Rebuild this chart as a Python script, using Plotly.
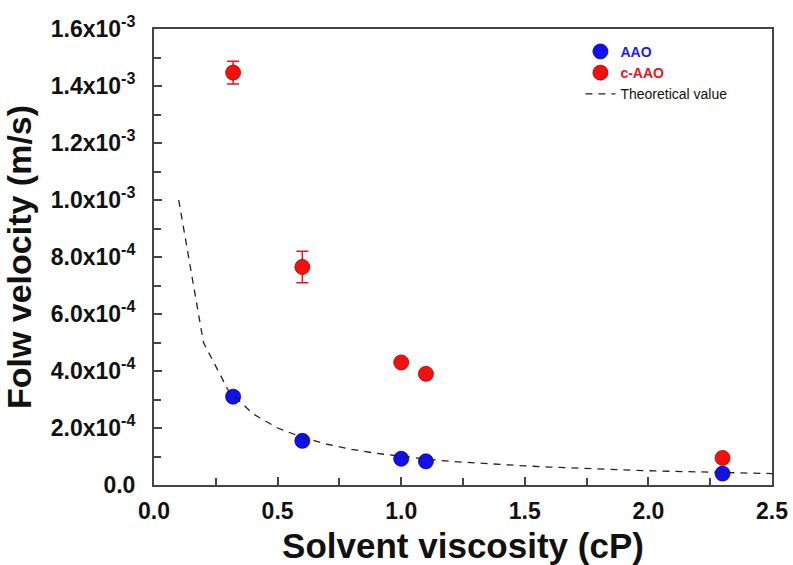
import plotly.graph_objects as go

# Data
viscosity = [0.32, 0.6, 1.0, 1.1, 2.3]
aao_velocity = [3.1e-4, 1.55e-4, 9.2e-5, 8.3e-5, 4.0e-5]
caao_velocity = [1.447e-3, 7.65e-4, 4.3e-4, 3.9e-4, 9.5e-5]
caao_error = [4.0e-5, 5.5e-5, 0.0, 0.0, 0.0]

theory_x = [0.1, 0.2, 0.3, 0.4, 0.5, 0.6, 0.7, 0.8, 0.9, 1.0, 1.1, 1.2, 1.3,
            1.4, 1.5, 1.6, 1.7, 1.8, 1.9, 2.0, 2.1, 2.2, 2.3, 2.4, 2.5]
theory_y = [1.0e-3, 5.0e-4, 3.33e-4, 2.5e-4, 2.0e-4, 1.67e-4, 1.43e-4, 1.25e-4,
            1.11e-4, 1.0e-4, 9.1e-5, 8.3e-5, 7.7e-5, 7.1e-5, 6.7e-5, 6.3e-5,
            5.9e-5, 5.6e-5, 5.3e-5, 5.0e-5, 4.8e-5, 4.5e-5, 4.3e-5, 4.2e-5, 4.0e-5]

x_tickvals = [0.0, 0.5, 1.0, 1.5, 2.0, 2.5]
x_ticktext = ["0.0", "0.5", "1.0", "1.5", "2.0", "2.5"]
y_tickvals = [0.0, 2e-4, 4e-4, 6e-4, 8e-4, 1.0e-3, 1.2e-3, 1.4e-3, 1.6e-3]
y_ticktext = ["0.0", "2.0x10<sup>-4</sup>", "4.0x10<sup>-4</sup>", "6.0x10<sup>-4</sup>",
              "8.0x10<sup>-4</sup>", "1.0x10<sup>-3</sup>", "1.2x10<sup>-3</sup>",
              "1.4x10<sup>-3</sup>", "1.6x10<sup>-3</sup>"]

fig = go.Figure()

fig.add_trace(go.Scatter(
    x=viscosity, y=aao_velocity, mode="markers",
    name="<b><span style='color:#1a1aff'>AAO</span></b>",
    marker=dict(size=15, color="#1010f0", line=dict(color="#0000a0", width=0.8)),
))
fig.add_trace(go.Scatter(
    x=viscosity, y=caao_velocity, mode="markers",
    name="<b><span style='color:#e8141e'>c-AAO</span></b>",
    marker=dict(size=15, color="#f51010", line=dict(color="#b00000", width=0.8)),
    error_y=dict(type="data", array=caao_error, color="#e8141e", thickness=1.5, width=6),
))
fig.add_trace(go.Scatter(
    x=theory_x, y=theory_y, mode="lines",
    name="Theoretical value",
    line=dict(color="#222222", width=1.3, dash="7px,6px"),
))

axis_common = dict(
    showline=True, linecolor="#444444", linewidth=2, mirror=True,
    ticks="inside", ticklen=8, tickwidth=1.5, tickcolor="#444444",
    showgrid=False, zeroline=False, automargin=False,
    tickfont=dict(family="Arial", size=23, color="#111111"),
)

fig.update_xaxes(
    range=[0, 2.5], tickvals=x_tickvals, ticktext=[f"<b>{t}</b>" for t in x_ticktext],
    minor=dict(ticks="inside", ticklen=7, tickwidth=1.5, tickcolor="#444444", dtick=0.25, tick0=0),
    title=dict(text="<b>Solvent viscosity (cP)</b>", font=dict(family="Arial", size=35, color="#111111"), standoff=14),
    ticklabelstandoff=4,
    **axis_common,
)
fig.update_yaxes(
    range=[0, 1.6e-3], tickvals=y_tickvals, ticktext=[f"<b>{t}</b>" for t in y_ticktext],
    minor=dict(ticks="inside", ticklen=7, tickwidth=1.5, tickcolor="#444444", dtick=1e-4, tick0=0),
    title=dict(text="<b>Folw velocity (m/s)</b>", font=dict(family="Arial", size=34, color="#111111"), standoff=10),
    ticklabelstandoff=12,
    **axis_common,
)

fig.update_layout(
    width=793, height=565,
    margin=dict(l=154, r=21, t=29, b=80),
    paper_bgcolor="white", plot_bgcolor="white",
    showlegend=True,
    legend=dict(
        x=0.69, y=0.985, xanchor="left", yanchor="top",
        font=dict(family="Arial", size=14, color="#111111"),
        bgcolor="rgba(0,0,0,0)", itemwidth=30, tracegroupgap=0,
    ),
)

fig.write_html("out.html", config={"displayModeBar": False},
               post_script="document.body.style.margin='0px';")
